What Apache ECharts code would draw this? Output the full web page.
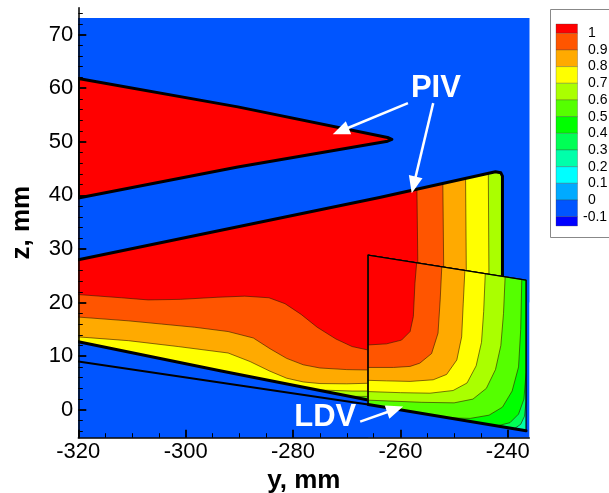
<!DOCTYPE html>
<html><head><meta charset="utf-8">
<script src="https://cdn.jsdelivr.net/npm/echarts@6/dist/echarts.min.js"></script>
<style>html,body{margin:0;padding:0;background:#fff}#c{width:609px;height:493px}</style>
</head><body><div id="c"></div>
<script>
// ---------- axis ticks ----------
const yTickValues = [-320, -300, -280, -260, -240];
const yMinorValues = [-315, -310, -305, -295, -290, -285, -275, -270, -265, -255, -250, -245];
const zTickValues = [0, 10, 20, 30, 40, 50, 60, 70];
const zMinorValues = [-4, -2, 2, 4, 6, 8, 12, 14, 16, 18, 22, 24, 26, 28, 32, 34, 36, 38, 42, 44, 46, 48, 52, 54, 56, 58, 62, 64, 66, 68, 72, 74];

// ---------- legend ----------
const legendLevels = ['1', '0.9', '0.8', '0.7', '0.6', '0.5', '0.4', '0.3', '0.2', '0.1', '0', '-0.1'];
const legendColors = ['#ff0000', '#ff5500', '#ffaa00', '#ffff00', '#aaff00', '#55ff00', '#00ff00', '#00ff55', '#00ffaa', '#00ffff', '#00aaff', '#0055ff', '#0000ff'];

// ---------- data domain (y, z in mm) ----------
const yDomain = [-320, -236];
const zDomain = [-5.2, 73.1];

// ---------- upper PIV wedge ----------
const wedgeTop = [[-320, 61.8], [-290.3, 56.5], [-262.4, 50.8], [-261.6, 50.45]];
const wedgeBottom = [[-262.4, 50.1], [-290.3, 45.3], [-320, 39.5]];

// ---------- lower PIV region ----------
const pivTop = [[-320, 28.0], [-263.9, 39.6], [-242.3, 44.4], [-241.3, 44.2], [-241.0, 43.6]];
const pivRight = [[-241.0, 43.6], [-241.0, 24.0]];
const pivBottom = [[-320, 12.7], [-293.6, 7.3], [-266, 1.84]];
// contour lines (left part) and their vertical parts near the right side
const pivC10 = [[-320, 21.5], [-312, 20.9], [-307, 20.5], [-301, 20.6], [-294, 21.0], [-289, 21.2], [-284.5, 20.9], [-281.5, 19.8], [-278.5, 17.8], [-275.5, 15.4], [-272, 13.2], [-269, 11.8], [-266, 11.15]];
const pivV10 = [[-256.7, 22], [-257.0, 47]];
const pivC09 = [[-320, 17.3], [-310.7, 16.6], [-304.5, 16.0], [-298.3, 15.4], [-292.1, 14.6], [-287.4, 13.4], [-284.3, 11.4], [-281.2, 9.6], [-278.1, 8.4], [-275, 7.8], [-270, 7.5], [-266, 7.43]];
const pivV09 = [[-251.9, 22], [-252.15, 47]];
const pivC08 = [[-320, 13.6], [-310.7, 12.9], [-301.4, 11.8], [-292.1, 10.6], [-288, 9.0], [-284.3, 7.2], [-281.2, 5.9], [-278.1, 5.2], [-275, 4.9], [-270, 4.85], [-266, 4.95]];
const pivV08 = [[-247.7, 22], [-247.9, 47]];
const pivC07 = [[-320, 5.0], [-278, 3.0], [-275.5, 3.7], [-272, 3.6], [-269, 3.5], [-266, 3.5]];
const pivV07 = [[-243.5, 22], [-243.65, 47]];
const pivC06 = [[-320, 4.0], [-271, 2.0], [-269.5, 2.5], [-266, 2.5]];
const pivV06 = [[-239, 22], [-239, 47]];

// ---------- LDV region ----------
const ldvTop = [[-266, 28.85], [-236.6, 24.19]];
const ldvBottom = [[-266, 1.0], [-236.6, -3.9]];
const ldvC10 = [[-256.98, 27.6], [-257.3, 23.6], [-257.6, 17.4], [-258.2, 14.6], [-259.8, 13.0], [-262.6, 12.3], [-266, 12.1]];
const ldvC09 = [[-252.3, 26.7], [-252.6, 20.5], [-253.0, 14.3], [-254.2, 10.5], [-256.4, 8.7], [-258.2, 8.1], [-261.3, 7.9], [-266, 7.9]];
const ldvC08 = [[-248.0, 26.0], [-248.3, 19.9], [-248.6, 13.6], [-249.5, 9.3], [-251.4, 6.6], [-253.9, 5.6], [-258.2, 5.3], [-262.6, 5.4], [-266, 5.5]];
const ldvC07 = [[-244.2, 25.4], [-244.5, 18.3], [-244.9, 12.6], [-245.9, 8.2], [-247.6, 5.0], [-250.2, 3.6], [-254.5, 3.1], [-260, 3.2], [-266, 3.4]];
const ldvC06 = [[-240.5, 24.8], [-240.8, 18.0], [-241.3, 12.0], [-242.3, 7.5], [-244.0, 4.0], [-246.5, 2.0], [-250.0, 1.3], [-256.0, 1.4], [-261.0, 1.6], [-266, 1.8]];
const ldvC05 = [[-237.4, 24.3], [-237.6, 15], [-238.0, 8], [-239.2, 3.5], [-241.0, 0.5], [-243.5, -1.0], [-247.0, -1.6], [-251, -1.5]];
const ldvC04 = [[-236.6, 7.0], [-237.0, 2.0], [-238.0, -0.8], [-239.6, -2.4], [-242.0, -3.0]];
const ldvC03 = [[-236.6, 1.5], [-236.9, -1.2], [-237.6, -2.7], [-238.8, -3.5]];

// ---------- wall line ----------
const wallLine = [[-320, 9.0], [-266, 1.0]];

// ---------- annotations ----------
const annotationText = ['PIV', 'LDV'];
const annotationAt = [[-253.4, 60.0], [-274.0, -1.4]];
const arrowFrom = [[-258.6, 57.2], [-253.9, 57.2], [-267.5, -2.2]];
const arrowTo = [[-272.6, 51.4], [-257.9, 40.4], [-259.5, 0.6]];

// ================= build drawing list =================
const BLUE = legendColors[11];
const colorOf = lv => legendColors[legendLevels.indexOf(lv)];
const CONTOUR = 'rgba(50,25,0,0.75)';
const shapes = [];
const poly = (pts, fill, stroke, lw) => shapes.push({ kind: 'poly', pts, fill, stroke, lw });
const line = (pts, stroke, lw) => shapes.push({ kind: 'line', pts, stroke, lw });

function lerpLine(l, x) {
  const a = l[0], b = l[l.length - 1];
  return a[1] + (x - a[0]) / (b[0] - a[0]) * (b[1] - a[1]);
}

// background
poly([[yDomain[0], zDomain[0]], [yDomain[1], zDomain[0]], [yDomain[1], zDomain[1]], [yDomain[0], zDomain[1]]], BLUE);

// PIV bands (painter order, masked afterwards)
poly([[-320, 5], [-266, 1.5], [-239, 22], [-239, 47], [-320, 47]], colorOf('0.5'));
[[pivC06, pivV06, '0.6'], [pivC07, pivV07, '0.7'], [pivC08, pivV08, '0.8'], [pivC09, pivV09, '0.9'], [pivC10, pivV10, '1']].forEach(([c, v, lv]) => {
  poly([...c, ...v, [-320, 47]], colorOf(lv), CONTOUR, 0.8);
});
// masks outside the PIV region
poly([...pivTop, pivRight[1], [yDomain[1], 20], [yDomain[1], zDomain[1]], [yDomain[0], zDomain[1]]], BLUE);
poly([...pivBottom, [-266, zDomain[0]], [-320, zDomain[0]]], BLUE);

// upper wedge
poly([...wedgeTop, ...wedgeBottom], colorOf('1'), '#000', 3);
// PIV outline
line(pivBottom, '#000', 3);
line([...pivTop, ...pivRight.slice(1)], '#000', 3);

// LDV region
const TL = ldvTop[0], TR = ldvTop[1], BL = ldvBottom[0], BR = ldvBottom[1];
function ldvRegion(c) {
  const pts = c.map(p => p.slice());
  const first = pts[0], last = pts[pts.length - 1];
  const out = [TL];
  if (Math.abs(first[0] - TR[0]) < 1e-6) out.push(TR); else first[1] = lerpLine(ldvTop, first[0]);
  out.push(...pts);
  if (Math.abs(last[0] - TL[0]) > 1e-6) { last[1] = lerpLine(ldvBottom, last[0]); out.push(BL); }
  return out;
}
poly([TL, TR, BR, BL], colorOf('0.2'));
[[ldvC03, '0.3'], [ldvC04, '0.4'], [ldvC05, '0.5'], [ldvC06, '0.6'], [ldvC07, '0.7'], [ldvC08, '0.8'], [ldvC09, '0.9'], [ldvC10, '1']].forEach(([c, lv]) => {
  poly(ldvRegion(c), colorOf(lv), CONTOUR, 0.8);
});
line([BL, TL, TR, BR], '#000', 1.2);
// wall
line(wallLine, '#000', 2);
line(ldvBottom, '#000', 3);

// annotations
arrowFrom.forEach((f, i) => shapes.push({ kind: 'arrow', from: f, to: arrowTo[i] }));
annotationText.forEach((t, i) => shapes.push({ kind: 'text', at: annotationAt[i], text: t }));

function renderItem(params, api) {
  const s = shapes[params.dataIndex];
  if (s.kind === 'poly' || s.kind === 'line') {
    const pts = s.pts.map(p => api.coord(p));
    return {
      type: s.kind === 'poly' ? 'polygon' : 'polyline', silent: true,
      shape: { points: pts },
      style: { fill: s.kind === 'poly' ? s.fill : 'none', stroke: s.stroke || 'none', lineWidth: s.lw || 0, lineJoin: 'round', lineCap: 'round' }
    };
  }
  if (s.kind === 'arrow') {
    const a = api.coord(s.from), b = api.coord(s.to);
    const dx = b[0] - a[0], dy = b[1] - a[1], L = Math.hypot(dx, dy), ux = dx / L, uy = dy / L;
    const hl = 17, hw = 7;
    const base = [b[0] - ux * hl, b[1] - uy * hl];
    return {
      type: 'group', silent: true, children: [
        { type: 'line', shape: { x1: a[0], y1: a[1], x2: base[0] + ux * 2, y2: base[1] + uy * 2 }, style: { stroke: '#fff', lineWidth: 2.5 } },
        { type: 'polygon', shape: { points: [b, [base[0] - uy * hw, base[1] + ux * hw], [base[0] + uy * hw, base[1] - ux * hw]] }, style: { fill: '#fff' } }
      ]
    };
  }
  if (s.kind === 'text') {
    const p = api.coord(s.at);
    return { type: 'text', silent: true, x: p[0], y: p[1], style: { text: s.text, fill: '#fff', font: 'bold 31px "Liberation Sans", Arial, sans-serif', align: 'center', verticalAlign: 'middle' } };
  }
}

// legend graphic
const legendGraphic = [{ type: 'rect', shape: { x: 550.5, y: 9.5, width: 70, height: 228 }, style: { fill: '#fff', stroke: '#888', lineWidth: 1 } }];
const lgTop = 33.3, lgStep = 16.67, lgHalf = 9.3, lgX = 556, lgW = 21.5;
legendColors.forEach((c, i) => {
  let y, h;
  if (i === 0) { y = lgTop - lgHalf; h = lgHalf; }
  else if (i === legendColors.length - 1) { y = lgTop + (i - 1) * lgStep; h = lgHalf; }
  else { y = lgTop + (i - 1) * lgStep; h = lgStep; }
  legendGraphic.push({ type: 'rect', shape: { x: lgX, y: y, width: lgW, height: h }, style: { fill: c, stroke: 'rgba(60,60,60,0.6)', lineWidth: 0.5 } });
});
legendLevels.forEach((t, i) => {
  legendGraphic.push({ type: 'text', x: t.charAt(0) === '-' ? 583 : 588, y: lgTop + i * lgStep, style: { text: t, fill: '#000', font: '14px "Liberation Sans", Arial, sans-serif', align: 'left', verticalAlign: 'middle' } });
});

const FONT = '"Liberation Sans", Arial, sans-serif';
const chart = echarts.init(document.getElementById('c'), null, { renderer: 'canvas' });
chart.setOption({
  animation: false,
  grid: { left: 78.3, right: 79.7, top: 7.7, bottom: 55.3, containLabel: false, outerBoundsMode: 'none' },
  xAxis: [
    {
      type: 'value', min: yDomain[0], max: yDomain[1], position: 'bottom', z: 5,
      axisLine: { onZero: false, lineStyle: { color: '#000', width: 1.5 } },
      axisTick: { inside: true, length: 8, customValues: yTickValues, lineStyle: { color: '#000', width: 1.8 } },
      axisLabel: { customValues: yTickValues, color: '#000', fontSize: 22, fontFamily: FONT, margin: 3 },
      splitLine: { show: false },
      name: 'y, mm', nameLocation: 'middle', nameGap: 28,
      nameTextStyle: { fontWeight: 'bold', fontSize: 26, fontFamily: FONT, color: '#000' }
    },
    {
      type: 'value', min: yDomain[0], max: yDomain[1], position: 'bottom', z: 5,
      axisLine: { show: false, onZero: false }, axisLabel: { show: false }, splitLine: { show: false },
      axisTick: { inside: true, length: 4.5, customValues: yMinorValues, lineStyle: { color: '#000', width: 1 } }
    }
  ],
  yAxis: [
    {
      type: 'value', min: zDomain[0], max: 75, position: 'left', z: 5,
      axisLine: { onZero: false, lineStyle: { color: '#000', width: 1.5 } },
      axisTick: { inside: true, length: 8, customValues: zTickValues, lineStyle: { color: '#000', width: 1.8 } },
      axisLabel: { customValues: zTickValues, color: '#000', fontSize: 22, fontFamily: FONT, margin: 5 },
      splitLine: { show: false },
      name: 'z, mm', nameLocation: 'middle', nameGap: 43,
      nameTextStyle: { fontWeight: 'bold', fontSize: 26, fontFamily: FONT, color: '#000' }
    },
    {
      type: 'value', min: zDomain[0], max: 75, position: 'left', z: 5,
      axisLine: { show: false, onZero: false }, axisLabel: { show: false }, splitLine: { show: false },
      axisTick: { inside: true, length: 4.5, customValues: zMinorValues, lineStyle: { color: '#000', width: 1 } }
    }
  ],
  graphic: legendGraphic,
  series: [{
    type: 'custom', coordinateSystem: 'cartesian2d', clip: true, z: 2,
    renderItem: renderItem,
    encode: { x: 0, y: 1 },
    data: shapes.map((s, i) => [yDomain[0], zDomain[0], i])
  }]
});
</script></body></html>
